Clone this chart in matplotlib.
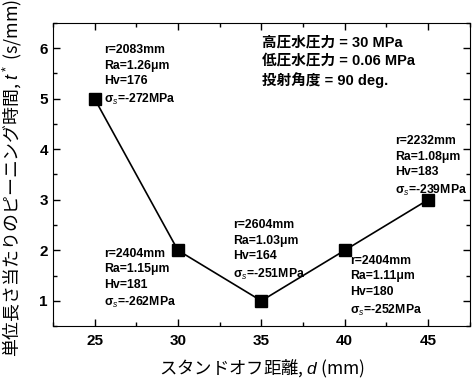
import matplotlib
matplotlib.use("Agg")
import matplotlib.pyplot as plt
from matplotlib.ticker import MultipleLocator

# data
distance = [25, 30, 35, 40, 45]
peening_time = [5, 2, 1, 2, 3]
radius = [2083, 2404, 2604, 2404, 2232]
ra = ["1.26", "1.15", "1.03", "1.11", "1.08"]
hv = [176, 181, 164, 180, 183]
sigma = [-272, -262, -251, -252, -239]

# where each label block sits (upper-left corner, data coords)
label_pos = [(25.55, 6.08), (25.55, 2.05), (33.3, 2.62), (40.3, 1.91), (43.0, 4.28)]

conditions = ["高圧水圧力 = 30 MPa", "低圧水圧力 = 0.06 MPa", "投射角度 = 90 deg."]

plt.rcParams['font.family'] = ['Liberation Sans', 'Noto Sans CJK JP', 'DejaVu Sans']
plt.rcParams['mathtext.fontset'] = 'custom'
plt.rcParams['mathtext.rm'] = 'Liberation Sans'
plt.rcParams['mathtext.it'] = 'Liberation Sans:italic'
plt.rcParams['mathtext.bf'] = 'Liberation Sans:bold'

fig = plt.figure(figsize=(4.76, 3.81), dpi=100)
ax = fig.add_axes([0.111, 0.144, 0.876, 0.796])

ax.plot(distance, peening_time, color='black', lw=1.2, marker='s', ms=8,
        markerfacecolor='black', markeredgecolor='black')

for i in range(len(distance)):
    txt = (f"r={radius[i]}mm\nRa={ra[i]}\u03bcm\nHv={hv[i]}\n"
           f"\u03c3$_s$={sigma[i]}MPa")
    ax.text(label_pos[i][0], label_pos[i][1], txt, fontsize=8.8, fontweight='bold',
            va='top', ha='left', linespacing=1.4)

ax.text(35.05, 6.24, "\n".join(conditions), fontsize=10.5, va='top', ha='left',
        linespacing=1.35, fontweight='bold',
        family=['Liberation Sans', 'Noto Sans CJK JP'])

ax.set_xlim(22.5, 47.5)
ax.set_ylim(0.5, 6.5)
ax.xaxis.set_major_locator(MultipleLocator(5))
ax.xaxis.set_minor_locator(MultipleLocator(2.5))
ax.yaxis.set_major_locator(MultipleLocator(1))
ax.yaxis.set_minor_locator(MultipleLocator(0.5))
ax.tick_params(which='both', direction='in', top=True, right=True)
ax.tick_params(which='major', length=5, width=1)
ax.tick_params(which='minor', length=3, width=1)
for lab in ax.get_xticklabels() + ax.get_yticklabels():
    lab.set_fontweight('bold')
    lab.set_fontsize(11)
ax.tick_params(axis='x', pad=6)

ax.set_xlabel("スタンドオフ距離, $d$ (mm)", fontsize=12.5,
              family=['Noto Sans CJK JP', 'DejaVu Sans'])
ax.set_ylabel("単位長さ当たりのピーニング時間, $t^*$ (s/mm)", fontsize=12.9,
              family=['Noto Sans CJK JP', 'DejaVu Sans'])
ax.xaxis.set_label_coords(0.5, -0.105)
ax.yaxis.set_label_coords(-0.068, 0.488)

fig.savefig("out.png", dpi=100)
